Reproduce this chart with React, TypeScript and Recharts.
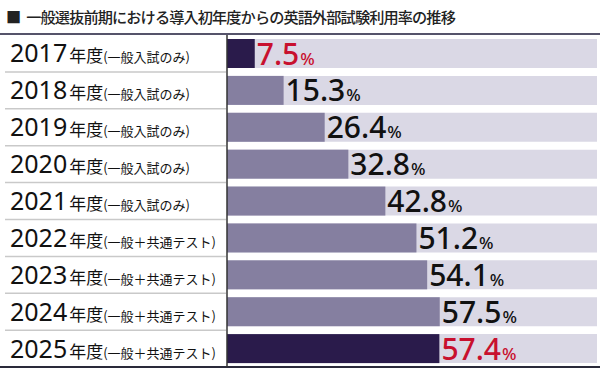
import React from 'react';
import { BarChart, Bar, XAxis, YAxis } from 'recharts';

// 年度ごとの英語外部試験利用率
const years = ['2017', '2018', '2019', '2020', '2021', '2022', '2023', '2024', '2025'];
const notes = [
  '(一般入試のみ)',
  '(一般入試のみ)',
  '(一般入試のみ)',
  '(一般入試のみ)',
  '(一般入試のみ)',
  '(一般＋共通テスト)',
  '(一般＋共通テスト)',
  '(一般＋共通テスト)',
  '(一般＋共通テスト)',
];
const rates = [7.5, 15.3, 26.4, 32.8, 42.8, 51.2, 54.1, 57.5, 57.4];
const highlightYears = ['2017', '2025'];

const data = years.map((year, i) => ({ year, rate: rates[i] }));

const FONT = '"Noto Sans CJK JP", "Noto Sans", sans-serif';
const DARK = '#2a1b4b';
const MID = '#857fa0';
const TRACK = '#dad8e5';
const RED = '#c8102e';

const YearTick = (props: any) => {
  const { y, payload } = props;
  const i = years.indexOf(payload.value);
  const last = i === years.length - 1;
  return (
    <g>
      <text x={10} y={y + 9} fill="#111" fontFamily={FONT}>
        <tspan fontSize={25} fontFamily='"Noto Sans", sans-serif'>{payload.value}</tspan>
        <tspan fontSize={17} dx={2}>年度</tspan>
        <tspan fontSize={13}>{notes[i]}</tspan>
      </text>
      {!last && <line x1={5} x2={226} y1={y + 18.5} y2={y + 18.5} stroke="#c9c9c9" strokeWidth={1.5} />}
    </g>
  );
};

const RateBar = (props: any) => {
  const { x, y, width, height, payload } = props;
  const hot = highlightYears.includes(payload.year);
  return (
    <g>
      <rect x={x} y={y} width={width} height={height} fill={hot ? DARK : MID} />
      <text x={x + width + 2} y={y + height / 2 + 11} fill={hot ? RED : '#111'} fontFamily='"Noto Sans", sans-serif' fontWeight={500}>
        <tspan fontSize={30}>{payload.rate.toFixed(1)}</tspan>
        <tspan fontSize={17} dx={1}>%</tspan>
      </text>
    </g>
  );
};

const App: React.FC = () => {
  return (
    <div style={{ position: 'absolute', left: 0, top: 0, width: 600, height: 370, background: '#fff' }}>
      <div
        style={{
          position: 'absolute',
          left: 6,
          top: 5,
          fontFamily: FONT,
          fontSize: 15.2,
          fontWeight: 500,
          letterSpacing: -0.9,
          color: '#222',
          whiteSpace: 'nowrap',
        }}
      >
        <span style={{ marginRight: 6 }}>■</span>一般選抜前期における導入初年度からの英語外部試験利用率の推移
      </div>
      <div style={{ position: 'absolute', left: 0, top: 33, width: 600, height: 2, background: '#55536a' }} />
      <div style={{ position: 'absolute', left: 0, top: 366, width: 600, height: 2, background: '#2a2a3a' }} />
      <div style={{ position: 'absolute', left: 0, top: 0 }}>
        <BarChart
          width={600}
          height={370}
          data={data}
          layout="vertical"
          margin={{ top: 35, right: 3, bottom: 3, left: 0 }}
          barSize={29}
        >
          <XAxis type="number" domain={[0, 100]} hide />
          <YAxis
            type="category"
            dataKey="year"
            width={227}
            tickLine={false}
            axisLine={{ stroke: '#333', strokeWidth: 1.5 }}
            tick={<YearTick />}
            interval={0}
          />
          <Bar dataKey="rate" isAnimationActive={false} background={{ fill: TRACK }} shape={<RateBar />} />
        </BarChart>
      </div>
    </div>
  );
};

export default App;
